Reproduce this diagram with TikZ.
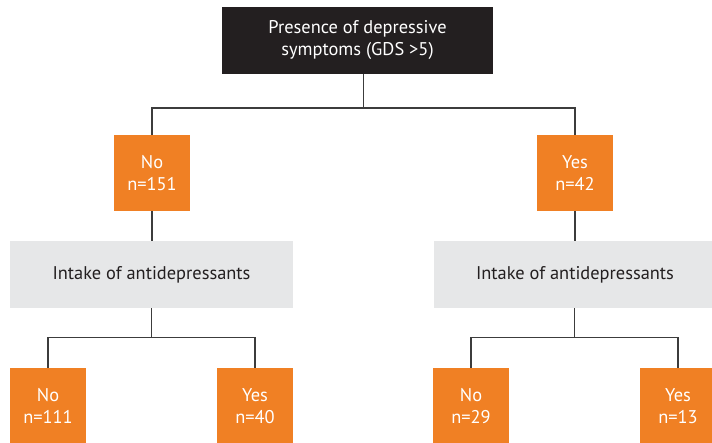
\documentclass[tikz,border=0pt]{standalone}
\usepackage{fontspec}
\setmainfont{PT Sans}
\usetikzlibrary{positioning}
\usepackage{xcolor}

\definecolor{boxorange}{HTML}{F08024}
\definecolor{boxgray}{HTML}{E6E7E8}
\definecolor{boxblack}{HTML}{231F20}
\definecolor{linegray}{HTML}{3C3C3C}

\tikzset{
  topbox/.style={rectangle, fill=boxblack, text=white, minimum width=271pt, minimum height=67pt, inner sep=0pt, align=center, font=\fontsize{18.4}{22}\selectfont},
  groupbox/.style={rectangle, fill=boxorange, text=white, minimum width=76pt, minimum height=76pt, inner sep=0pt, align=center, font=\fontsize{18.4}{22.5}\selectfont},
  askbox/.style={rectangle, fill=boxgray, text=boxblack, minimum width=283pt, minimum height=67pt, inner sep=0pt, align=center, font=\fontsize{18.4}{22}\selectfont},
  link/.style={draw=linegray, line width=1.6pt}
}

\begin{document}
\begin{tikzpicture}[x=1pt, y=-1pt]
  \useasboundingbox (0,0) rectangle (712,442);

  % Root question
  \node[topbox] (root) at (357.5,40.5) {Presence of depressive\\symptoms (GDS >5)};

  % First split: depressive symptoms
  \node[groupbox] (gdsno) at (152,173) {No\\n=151};
  \node[groupbox] (gdsyes) at (575,173) {Yes\\n=42};

  % Second question for each branch
  \node[askbox] (askno) at (151.5,274.5) {Intake of antidepressants};
  \node[askbox] (askyes) at (575,274.5) {Intake of antidepressants};

  % Leaves
  \node[groupbox] (nono) at (48,406) {No\\n=111};
  \node[groupbox] (noyes) at (255,406) {Yes\\n=40};
  \node[groupbox] (yesno) at (471,406) {No\\n=29};
  \node[groupbox] (yesyes) at (678,406) {Yes\\n=13};

  % Branch points
  \coordinate (forkroot) at (363.5,108);
  \coordinate (forkno) at (151.5,337.5);
  \coordinate (forkyes) at (574.5,337.5);

  % Tree connectors
  \draw[link] (forkroot) -- (forkroot |- root.south);
  \draw[link] (gdsno.north) |- (forkroot) -| (gdsyes.north);
  \draw[link] (gdsno.south) -- (gdsno |- askno.north);
  \draw[link] (gdsyes.south) -- (gdsyes |- askyes.north);

  \draw[link] (forkno) -- (forkno |- askno.south);
  \draw[link] (nono.north) |- (forkno) -| (noyes.north);
  \draw[link] (forkyes) -- (forkyes |- askyes.south);
  \draw[link] (yesno.north) |- (forkyes) -| (yesyes.north);
\end{tikzpicture}
\end{document}
